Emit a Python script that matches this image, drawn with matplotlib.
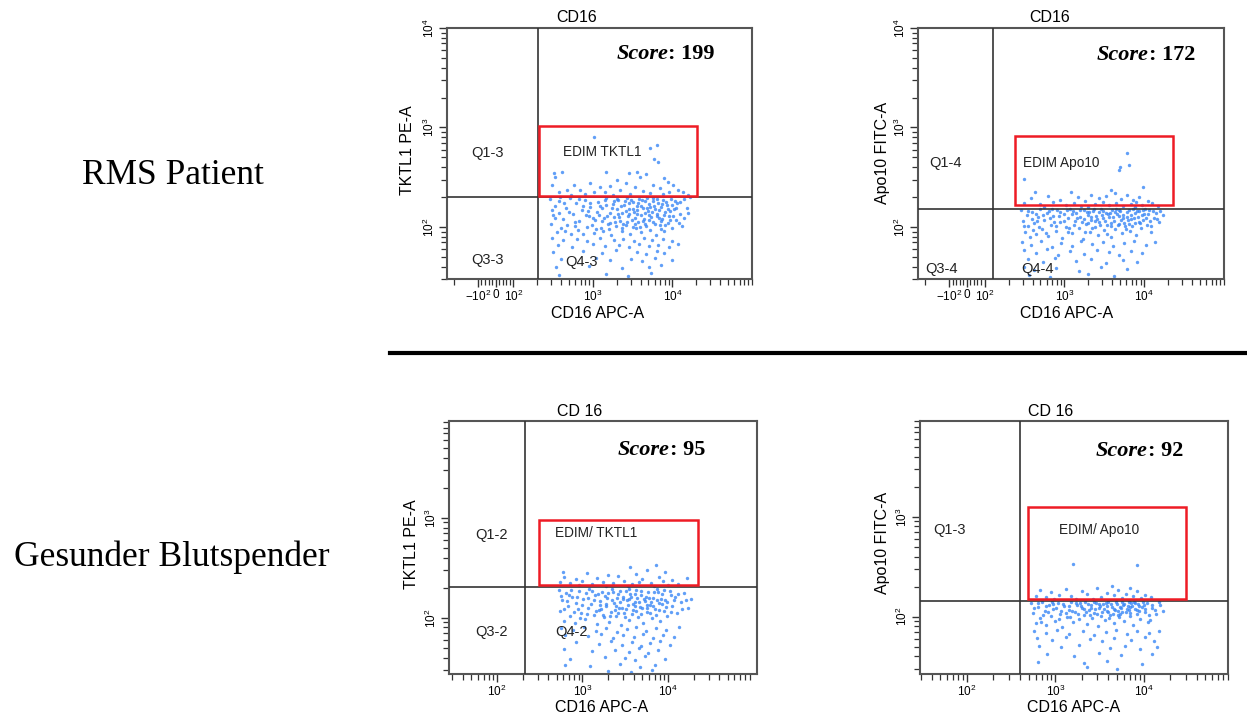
import numpy as np
import matplotlib.pyplot as plt
from matplotlib.patches import Rectangle
from matplotlib.lines import Line2D
from matplotlib.ticker import FixedLocator, NullFormatter, LogLocator

plt.rcParams['font.family'] = ['Liberation Sans', 'DejaVu Sans']
plt.rcParams['mathtext.fontset'] = 'custom'
plt.rcParams['mathtext.rm'] = 'Liberation Sans'
plt.rcParams['mathtext.it'] = 'Liberation Sans:italic'
plt.rcParams['mathtext.bf'] = 'Liberation Sans:bold'

# ---- data -------------------------------------------------------------
row_labels = ['RMS Patient', 'Gesunder Blutspender']
titles = ['CD16', 'CD16', 'CD 16', 'CD 16']
ylabels = ['TKTL1 PE-A', 'Apo10 FITC-A', 'TKTL1 PE-A', 'Apo10 FITC-A']
xlabels = ['CD16 APC-A'] * 4
gate_names = ['EDIM TKTL1', 'EDIM Apo10', 'EDIM/ TKTL1', 'EDIM/ Apo10']
quad_names = [['Q1-3', 'Q3-3', 'Q4-3'], ['Q1-4', 'Q3-4', 'Q4-4'],
              ['Q1-2', 'Q3-2', 'Q4-2'], ['Q1-3']]
scores = [199, 172, 95, 92]

# quadrant split (x, y) and gate (x0, x1, y0, y1)
quad_x = [205, 126, 213, 395]
quad_y = [200, 151, 203, 145]
gates = [(211, 20500, 204, 1030), (244, 23000, 166, 813),
         (311, 22500, 212, 950), (497, 30400, 151, 1260)]

# events, as (log10 CD16, log10 marker)
p1_pts = [
    (3.01,2.90),(3.80,2.82),(3.72,2.79),(3.77,2.68),(3.82,2.65),(3.17,2.55),(3.46,2.54),(3.55,2.55),
    (2.51,2.54),(2.61,2.55),(2.53,2.50),(3.59,2.50),(3.67,2.53),(3.90,2.49),(3.94,2.45),(3.30,2.47),
    (2.97,2.44),(2.76,2.42),(2.49,2.42),(3.42,2.44),(3.76,2.42),(4.01,2.42),(3.09,2.40),(3.22,2.41),
    (3.53,2.40),(3.84,2.39),(4.07,2.37),(2.67,2.37),(2.84,2.37),(2.57,2.35),(3.34,2.37),(3.63,2.36),
    (3.96,2.35),(4.13,2.35),(3.01,2.35),(3.15,2.35),(3.72,2.34),(3.47,2.33),(2.90,2.33),(3.88,2.33),
    (4.20,2.32),(2.72,2.32),(3.25,2.32),
    (2.46,2.28),(2.53,2.21),(2.50,2.12),(2.47,2.03),(2.55,1.95),(2.49,2.17),(2.58,2.26),(2.62,2.08),
    (2.60,1.99),(2.66,2.19),(2.71,2.29),(2.68,2.02),(2.75,2.13),(2.73,1.93),(2.79,2.24),(2.83,2.06),
    (2.86,2.17),(2.81,1.97),(2.90,2.27),(2.92,2.00),(2.95,2.11),(2.97,2.20),(3.01,1.94),(3.03,2.07),
    (3.06,2.25),(3.05,2.15),(3.10,1.99),(3.12,2.19),(3.14,2.09),(3.17,2.29),(3.19,2.03),(3.21,2.14),
    (3.23,1.92),(3.25,2.23),(3.27,2.10),(3.29,2.01),(3.30,2.18),(3.32,2.27),(3.34,2.06),(3.36,1.96),
    (3.37,2.14),(3.39,2.22),(3.41,2.02),(3.43,2.29),(3.44,2.11),(3.46,2.18),(3.47,1.93),(3.49,2.07),
    (3.51,2.25),(3.52,2.15),(3.54,1.99),(3.55,2.21),(3.57,2.05),(3.58,2.28),(3.60,2.12),(3.61,1.95),
    (3.63,2.19),(3.64,2.08),(3.66,2.26),(3.67,2.01),(3.69,2.16),(3.70,2.23),(3.72,1.97),(3.73,2.10),
    (3.75,2.29),(3.76,2.05),(3.78,2.18),(3.79,1.92),(3.81,2.13),(3.82,2.24),(3.84,2.02),(3.85,2.20),
    (3.87,2.08),(3.88,2.27),(3.90,1.96),(3.91,2.15),(3.93,2.22),(3.95,2.04),(3.96,2.11),(3.98,2.28),
    (4.00,1.99),(4.02,2.18),(4.04,2.07),(4.06,2.24),(4.09,2.13),(4.12,2.01),(4.15,2.28),(4.18,2.19),
    (4.22,2.30),(2.57,2.14),(2.64,2.24),(2.77,2.05),(2.88,2.21),(2.99,2.02),(3.08,2.12),(3.16,2.22),
    (3.22,2.04),(3.31,2.13),(3.38,2.03),(3.45,2.24),(3.50,2.00),(3.56,2.17),(3.62,2.27),(3.65,2.03),
    (3.71,2.12),(3.77,2.21),(3.83,2.09),(3.86,1.98),(3.92,2.25),(3.97,2.16),(4.03,2.26),(4.08,2.04),
    (3.53,2.09),(3.68,2.19),(3.80,2.28),(3.42,2.16),(3.26,2.26),(3.13,1.96),(2.94,2.16),
    (2.52,2.09),(2.59,2.30),(2.65,1.96),(2.70,2.15),(2.78,2.01),(2.82,2.28),(2.87,1.93),(2.91,2.12),
    (2.96,2.24),(3.00,2.09),(3.04,1.98),(3.09,2.21),(3.11,2.06),(3.15,2.27),(3.18,2.11),(3.20,1.98),
    (3.24,2.19),(3.28,2.05),(3.30,2.28),(3.33,2.10),(3.35,2.21),(3.37,1.99),(3.40,2.26),(3.43,2.05),
    (3.46,2.13),(3.48,2.27),(3.50,2.18),(3.53,2.03),(3.55,2.13),(3.57,2.24),(3.59,2.00),(3.61,2.21),
    (3.63,2.06),(3.66,2.14),(3.68,2.29),(3.70,2.07),(3.72,2.20),(3.74,2.15),(3.76,2.26),(3.78,2.03),
    (3.80,2.11),(3.83,2.17),(3.85,2.06),(3.87,2.23),(3.89,2.12),(3.91,2.02),(3.94,2.18),(3.97,2.07),
    (3.99,2.22),(4.01,2.11),(4.05,2.19),(4.10,2.25),(4.14,2.09),(4.19,2.14),
    (2.49,1.89),(2.63,1.87),(2.80,1.88),(2.93,1.86),(3.09,1.89),(3.26,1.87),(3.38,1.88),(3.52,1.86),
    (3.64,1.89),(3.74,1.87),(3.88,1.88),(4.00,1.86),(2.56,1.82),(2.74,1.80),(3.00,1.83),(3.15,1.81),
    (3.33,1.82),(3.46,1.80),(3.58,1.83),(3.71,1.81),(3.82,1.82),(3.96,1.80),(4.07,1.83),(2.50,1.75),
    (2.88,1.76),(3.12,1.74),(3.29,1.77),(3.55,1.75),(3.67,1.73),(3.80,1.76),(3.90,1.74),(2.60,1.68),
    (3.04,1.69),(3.21,1.67),(3.48,1.68),(3.62,1.66),(3.78,1.69),(3.99,1.67),(2.54,1.60),(2.95,1.61),
    (3.36,1.59),(3.70,1.60),(3.86,1.62),(2.58,1.52),(3.17,1.53),(3.44,1.51),(3.73,1.54),
]

p2_pts = [
    (3.79,2.74),(3.81,2.62),(3.70,2.60),(3.68,2.57),(2.50,2.48),(3.99,2.40),(2.63,2.35),(3.08,2.35),
    (3.33,2.32),(3.58,2.37),(3.63,2.34),(2.58,2.29),(2.79,2.31),(2.95,2.27),(3.17,2.30),(3.26,2.26),
    (3.44,2.29),(3.52,2.31),(3.71,2.28),(3.78,2.32),(3.86,2.27),(3.93,2.30),(4.05,2.26),(2.49,2.24),
    (2.69,2.23),(2.86,2.25),(3.02,2.22),(3.12,2.24),(3.21,2.21),(3.38,2.23),(3.48,2.25),(3.56,2.22),
    (3.65,2.24),(3.74,2.21),(3.83,2.23),(3.90,2.25),(3.97,2.22),(4.10,2.24),(4.17,2.21),(3.30,2.20),
    (2.74,2.20),(3.88,2.20),
    (2.46,2.17),(2.48,2.06),(2.51,1.95),(2.53,2.12),(2.55,2.01),(2.57,1.90),(2.60,2.15),(2.62,2.04),
    (2.64,1.93),(2.67,2.10),(2.70,2.18),(2.72,1.98),(2.75,2.07),(2.78,2.14),(2.80,1.91),(2.83,2.02),
    (2.86,2.11),(2.89,1.96),(2.91,2.17),(2.94,2.05),(2.97,1.89),(2.99,2.13),(3.02,2.00),(3.05,2.09),
    (3.07,2.18),(3.10,1.94),(3.13,2.06),(3.15,2.14),(3.18,1.99),(3.20,2.10),(3.23,1.88),(3.25,2.17),
    (3.27,2.03),(3.29,2.12),(3.32,1.95),(3.34,2.07),(3.36,2.16),(3.38,2.00),(3.40,2.11),(3.42,1.92),
    (3.44,2.05),(3.46,2.18),(3.48,2.09),(3.50,1.97),(3.52,2.14),(3.54,2.02),(3.56,2.10),(3.58,1.90),
    (3.60,2.17),(3.62,2.06),(3.64,1.98),(3.66,2.13),(3.68,2.03),(3.70,2.16),(3.72,1.94),(3.74,2.09),
    (3.76,2.01),(3.78,2.15),(3.80,2.07),(3.82,1.96),(3.84,2.12),(3.86,2.18),(3.88,2.04),(3.90,1.92),
    (3.92,2.10),(3.94,2.16),(3.96,1.99),(3.98,2.07),(4.00,2.13),(4.03,2.02),(4.06,2.17),(4.09,1.95),
    (4.12,2.09),(4.15,2.14),(4.19,2.05),(4.23,2.12),(2.59,2.08),(2.68,2.00),(2.81,2.16),(2.93,2.11),
    (3.04,1.95),(3.11,2.16),(3.22,2.05),(3.31,2.15),(3.39,2.06),(3.47,2.12),(3.53,1.93),(3.59,2.04),
    (3.65,2.18),(3.71,2.07),(3.77,1.98),(3.83,2.08),(3.89,2.14),(3.95,2.04),(4.01,2.18),(4.07,2.06),
    (3.57,2.14),(3.69,2.11),(3.81,2.03),(3.43,2.15),(2.87,2.05),(2.65,2.13),
    (2.49,2.01),(2.54,2.16),(2.61,1.97),(2.66,2.06),(2.73,2.12),(2.77,1.94),(2.82,2.09),(2.85,2.18),
    (2.90,2.01),(2.95,2.15),(3.00,2.06),(3.03,2.17),(3.06,1.99),(3.09,2.13),(3.12,2.02),(3.16,2.09),
    (3.19,2.17),(3.24,2.08),(3.26,1.95),(3.28,2.15),(3.30,2.04),(3.33,2.10),(3.35,1.99),(3.37,2.18),
    (3.41,2.08),(3.45,2.02),(3.49,2.16),(3.51,2.06),(3.55,2.13),(3.58,2.01),(3.61,2.10),(3.63,2.15),
    (3.67,2.02),(3.69,2.17),(3.73,2.12),(3.75,2.04),(3.79,2.10),(3.81,2.17),(3.85,2.01),(3.87,2.09),
    (3.91,2.16),(3.93,2.05),(3.97,2.12),(3.99,2.17),(4.02,2.09),(4.05,2.13),(4.08,2.01),(4.11,2.16),
    (4.16,2.08),(4.20,2.16),
    (2.47,1.85),(2.58,1.82),(2.71,1.86),(2.84,1.80),(2.96,1.84),(3.09,1.81),(3.21,1.86),(3.35,1.83),
    (3.49,1.85),(3.61,1.81),(3.75,1.84),(3.87,1.86),(4.02,1.82),(4.14,1.85),(2.50,1.77),(2.65,1.74),
    (2.78,1.78),(2.92,1.72),(3.07,1.76),(3.25,1.73),(3.41,1.77),(3.56,1.75),(3.69,1.72),(3.83,1.76),
    (3.97,1.74),(2.54,1.68),(2.73,1.65),(2.88,1.69),(3.14,1.66),(3.33,1.68),(3.52,1.64),(3.73,1.67),
    (3.91,1.65),(2.49,1.60),(2.62,1.57),(2.90,1.59),(3.18,1.56),(3.46,1.60),(3.78,1.58),(2.56,1.52),
    (2.82,1.50),(3.29,1.53),(3.62,1.51),
]

p3_pts = [
    (3.56,2.51),(3.86,2.53),(3.75,2.48),(3.97,2.46),(3.30,2.43),(2.77,2.46),(2.79,2.41),(4.22,2.40),
    (3.05,2.45),(3.63,2.44),(2.92,2.39),(3.17,2.40),(3.42,2.42),(3.70,2.39),(3.89,2.41),(4.05,2.38),
    (2.74,2.36),(2.85,2.35),(3.00,2.37),(3.11,2.34),(3.24,2.36),(3.36,2.35),(3.49,2.37),(3.58,2.34),
    (3.66,2.36),(3.80,2.35),(3.94,2.37),(4.12,2.34),(3.53,2.32),(3.28,2.32),(2.96,2.33),(3.84,2.32),
    (4.00,2.33),
    (2.73,2.28),(2.76,2.18),(2.74,2.07),(2.78,1.97),(2.81,2.25),(2.83,2.12),(2.86,2.02),(2.88,2.21),
    (2.91,1.95),(2.93,2.15),(2.96,2.27),(2.98,2.05),(3.01,2.19),(3.03,1.99),(3.06,2.10),(3.08,2.29),
    (3.10,2.14),(3.13,2.03),(3.15,2.23),(3.17,1.94),(3.19,2.08),(3.21,2.17),(3.23,2.26),(3.25,2.01),
    (3.27,2.12),(3.29,2.20),(3.31,1.96),(3.33,2.06),(3.35,2.29),(3.37,2.15),(3.39,2.02),(3.41,2.24),
    (3.43,2.10),(3.45,1.93),(3.47,2.19),(3.49,2.05),(3.51,2.27),(3.53,2.13),(3.55,1.98),(3.57,2.21),
    (3.59,2.08),(3.61,2.16),(3.63,2.28),(3.65,2.01),(3.67,2.11),(3.69,2.23),(3.71,1.95),(3.73,2.17),
    (3.75,2.06),(3.77,2.26),(3.79,2.13),(3.81,2.00),(3.83,2.20),(3.85,2.09),(3.87,2.29),(3.89,2.15),
    (3.91,1.97),(3.93,2.24),(3.95,2.07),(3.97,2.18),(3.99,2.02),(4.02,2.27),(4.05,2.12),(4.08,2.21),
    (4.11,2.05),(4.15,2.16),(4.19,2.25),(4.23,2.10),(4.27,2.19),(2.84,2.23),(2.95,2.09),(3.04,2.25),
    (3.14,2.18),(3.22,2.09),(3.30,2.25),(3.38,2.08),(3.44,2.16),(3.50,2.01),(3.56,2.24),(3.62,2.12),
    (3.68,2.04),(3.74,2.21),(3.80,2.16),(3.86,2.03),(3.92,2.19),(3.98,2.11),(4.04,2.23),(3.52,2.18),
    (3.64,2.20),(3.76,2.10),(3.88,2.26),(3.40,2.20),(3.58,2.04),
    (2.75,2.22),(2.79,2.09),(2.82,2.17),(2.87,2.28),(2.90,2.06),(2.94,2.21),(2.97,2.00),(3.00,2.13),
    (3.05,2.04),(3.07,2.20),(3.11,2.27),(3.16,2.07),(3.18,2.24),(3.20,2.13),(3.24,2.03),(3.26,2.22),
    (3.28,2.14),(3.32,2.02),(3.34,2.18),(3.36,2.26),(3.39,2.12),(3.42,2.05),(3.44,2.27),(3.46,2.10),
    (3.48,2.21),(3.51,2.09),(3.54,2.19),(3.55,2.29),(3.59,2.14),(3.61,2.24),(3.63,2.07),(3.66,2.16),
    (3.69,2.27),(3.70,2.10),(3.72,2.19),(3.75,2.13),(3.78,2.20),(3.79,2.05),(3.82,2.12),(3.84,2.26),
    (3.87,2.18),(3.90,2.08),(3.93,2.14),(3.95,2.28),(3.99,2.16),(4.03,2.06),(4.07,2.18),(4.12,2.24),
    (4.17,2.09),(4.21,2.18),
    (2.75,1.90),(2.89,1.88),(3.02,1.91),(3.16,1.87),(3.28,1.90),(3.40,1.86),(3.52,1.89),(3.63,1.91),
    (3.74,1.87),(3.86,1.90),(3.98,1.88),(4.13,1.91),(2.80,1.83),(3.07,1.82),(3.22,1.84),(3.36,1.80),
    (3.48,1.83),(3.60,1.81),(3.71,1.84),(3.82,1.80),(3.94,1.83),(4.07,1.81),(2.93,1.76),(3.19,1.74),
    (3.33,1.77),(3.46,1.73),(3.58,1.76),(3.69,1.72),(3.79,1.75),(3.91,1.77),(4.02,1.73),(2.78,1.69),
    (3.11,1.67),(3.38,1.68),(3.55,1.66),(3.66,1.70),(3.77,1.65),(3.88,1.68),(3.26,1.61),(3.50,1.60),
    (3.61,1.58),(3.73,1.62),(3.97,1.59),(2.86,1.59),(2.80,1.53),(3.09,1.52),(3.44,1.54),(3.67,1.51),
    (3.85,1.53),(3.30,1.47),(3.57,1.46),(3.81,1.48),
]

p4_pts = [
    (3.20,2.53),(3.93,2.52),(3.64,2.31),(3.85,2.29),(2.83,2.27),(2.95,2.25),(3.12,2.28),(3.30,2.26),
    (3.47,2.29),(3.58,2.24),(3.71,2.27),(3.80,2.23),(3.93,2.26),(4.02,2.22),(2.78,2.21),(2.90,2.20),
    (3.04,2.22),(3.18,2.21),(3.36,2.23),(3.52,2.20),(3.66,2.22),(3.76,2.19),(3.88,2.21),(3.97,2.19),
    (4.08,2.20),(3.43,2.18),(3.24,2.18),(2.99,2.18),
    (2.73,2.14),(2.75,2.04),(2.78,1.94),(2.80,2.10),(2.83,1.99),(2.85,2.15),(2.88,2.06),(2.90,1.92),
    (2.93,2.12),(2.95,2.01),(2.98,2.08),(3.00,1.96),(3.03,2.14),(3.05,2.03),(3.08,1.90),(3.10,2.11),
    (3.13,2.00),(3.15,2.07),(3.18,2.15),(3.20,1.95),(3.22,2.05),(3.25,2.12),(3.27,1.98),(3.30,2.09),
    (3.32,2.02),(3.34,2.15),(3.36,1.93),(3.38,2.07),(3.40,2.12),(3.42,1.99),(3.44,2.04),(3.46,2.14),
    (3.48,1.91),(3.50,2.09),(3.52,2.01),(3.54,2.13),(3.56,1.97),(3.58,2.06),(3.60,2.15),(3.62,2.02),
    (3.64,2.10),(3.66,1.94),(3.68,2.07),(3.70,2.13),(3.72,2.00),(3.74,2.09),(3.76,2.15),(3.78,1.96),
    (3.80,2.05),(3.82,2.11),(3.84,2.01),(3.86,2.14),(3.88,1.92),(3.90,2.08),(3.92,2.03),(3.94,2.13),
    (3.96,1.98),(3.98,2.10),(4.01,2.05),(4.04,2.14),(4.07,1.97),(4.10,2.09),(4.14,2.03),(4.18,2.12),
    (4.22,2.06),(2.86,2.02),(2.97,2.13),(3.07,2.06),(3.17,2.00),(3.28,2.14),(3.35,2.05),(3.45,2.08),
    (3.53,2.05),(3.59,2.11),(3.65,2.03),(3.71,2.06),(3.77,2.12),(3.83,2.07),(3.89,2.15),(3.95,2.06),
    (4.00,2.12),(3.61,1.99),(3.73,2.03),(3.85,2.10),(3.49,2.13),(4.06,2.02),
    (2.76,2.09),(2.81,2.14),(2.84,1.95),(2.89,2.11),(2.92,2.05),(2.96,2.15),(3.01,2.09),(3.04,1.98),
    (3.09,2.13),(3.12,2.04),(3.16,2.11),(3.19,2.06),(3.23,2.14),(3.26,2.03),(3.29,2.11),(3.33,2.08),
    (3.37,2.13),(3.39,2.02),(3.41,2.09),(3.44,2.15),(3.47,2.03),(3.51,2.11),(3.55,2.08),(3.57,2.14),
    (3.60,2.05),(3.63,2.13),(3.66,2.08),(3.69,2.15),(3.71,2.02),(3.73,2.10),(3.75,2.05),(3.78,2.13),
    (3.81,2.08),(3.83,2.15),(3.85,2.04),(3.87,2.11),(3.90,2.14),(3.92,2.07),(3.95,2.11),(3.99,2.15),
    (4.02,2.08),(4.05,1.95),(4.09,2.12),(4.13,2.07),(4.17,2.15),
    (2.76,1.86),(2.89,1.84),(3.02,1.87),(3.16,1.83),(3.31,1.86),(3.44,1.82),(3.57,1.85),(3.69,1.87),
    (3.81,1.83),(3.93,1.86),(4.06,1.84),(4.17,1.86),(2.79,1.79),(2.96,1.77),(3.12,1.80),(3.39,1.78),
    (3.53,1.76),(3.67,1.79),(3.86,1.77),(4.01,1.80),(4.12,1.76),(2.82,1.71),(3.06,1.70),(3.27,1.72),
    (3.62,1.69),(3.79,1.71),(3.96,1.68),(4.15,1.70),(2.91,1.63),(3.21,1.61),(3.49,1.64),(3.74,1.62),
    (4.09,1.63),(2.80,1.55),(3.33,1.54),(3.58,1.56),(3.98,1.53),(3.70,1.48),(3.36,1.50),
]
all_pts = [p1_pts, p2_pts, p3_pts, p4_pts]

# ---- layout (pixel positions in the 1247x716 picture) -----------------
W, H = 1247, 716


def fx(px):
    return px / W


def fy(py):
    return 1 - py / H


boxes = [(447, 28, 752, 279), (918, 28, 1224, 279),
         (449, 421, 757, 674), (920, 421, 1228, 674)]
xlims = [(-245, 1e5), (-245, 1e5), (27.5, 1.1e5), (29.5, 9e4)]
ylims = [(30, 1e4), (30, 1e4), (27.4, 9300), (26.7, 9100)]
sym = [True, True, False, False]
title_pos = [(577, 18), (1050, 18), (580, 412), (1051, 412)]
ylab_pos = [(408, 150), (882, 153), (412, 544), (883, 543)]
xlab_pos = [(598, 313), (1067, 313), (602, 707), (1074, 707)]
gate_lab_pos = [(602, 152), (1061, 163), (596, 533), (1099, 530)]
quad_lab_pos = [[(487, 153), (487, 260), (582, 262)],
                [(946, 163), (941, 269), (1037, 269)],
                [(491, 535), (492, 632), (572, 632)],
                [(950, 530)]]
score_pos = [(715, 59), (1195, 60), (705, 455), (1183, 456)]

dot_color = '#3a87f6'
line_color = '#333333'
serif = 'Liberation Serif'

fig = plt.figure(figsize=(W / 100, H / 100), dpi=100)

for i in range(4):
    l, t, r, b = boxes[i]
    ax = fig.add_axes([fx(l), fy(b), (r - l) / W, (b - t) / H])
    pts = np.array(all_pts[i])
    ax.scatter(10 ** pts[:, 0], 10 ** pts[:, 1], s=6, marker='o',
               color=dot_color, linewidths=0, alpha=0.8, zorder=2)

    ax.axvline(quad_x[i], color=line_color, lw=1.2, zorder=3)
    ax.axhline(quad_y[i], color=line_color, lw=1.2, zorder=3)
    x0, x1, y0, y1 = gates[i]
    ax.add_patch(Rectangle((x0, y0), x1 - x0, y1 - y0, fill=False,
                           edgecolor='#ee1c25', lw=1.8, zorder=4))

    if sym[i]:
        ax.set_xscale('symlog', linthresh=100, linscale=0.2)
        ax.set_xticks([-100, 0, 100, 1000, 10000])
        ax.set_xticklabels(['$-10^2$', '0', '$10^2$', '$10^3$', '$10^4$'])
        minors = ([-200] + list(range(-80, 0, 20)) + list(range(20, 100, 20))
                  + list(range(200, 1000, 100)) + list(range(2000, 10000, 1000))
                  + list(range(20000, 100001, 10000)))
        ax.xaxis.set_minor_locator(FixedLocator(minors))
    else:
        ax.set_xscale('log')
        ax.set_xticks([100, 1000, 10000])
        ax.set_xticklabels(['$10^2$', '$10^3$', '$10^4$'])
        ax.xaxis.set_minor_locator(LogLocator(base=10, subs=np.arange(2, 10)))
    ax.xaxis.set_minor_formatter(NullFormatter())

    ax.set_yscale('log')
    if ylims[i][1] >= 1e4:
        ax.set_yticks([100, 1000, 10000])
        ax.set_yticklabels(['$10^2$', '$10^3$', '$10^4$'], rotation=90, va='center')
    else:
        ax.set_yticks([100, 1000])
        ax.set_yticklabels(['$10^2$', '$10^3$'], rotation=90, va='center')
    ax.yaxis.set_minor_locator(LogLocator(base=10, subs=np.arange(2, 10)))
    ax.yaxis.set_minor_formatter(NullFormatter())

    ax.set_xlim(*xlims[i])
    ax.set_ylim(*ylims[i])

    ax.tick_params(which='major', direction='out', length=6, width=1,
                   color=line_color, labelsize=8.5, pad=1)
    ax.tick_params(which='minor', direction='out', length=4, width=0.9,
                   color=line_color)
    for sp in ax.spines.values():
        sp.set_color('#555555')
        sp.set_linewidth(1.5)

    fig.text(fx(title_pos[i][0]), fy(title_pos[i][1]), titles[i],
             ha='center', va='center', fontsize=11.5)
    fig.text(fx(ylab_pos[i][0]), fy(ylab_pos[i][1]), ylabels[i],
             ha='center', va='center', rotation=90, fontsize=11.5)
    fig.text(fx(xlab_pos[i][0]), fy(xlab_pos[i][1]), xlabels[i],
             ha='center', va='center', fontsize=11.5)
    fig.text(fx(gate_lab_pos[i][0]), fy(gate_lab_pos[i][1]), gate_names[i],
             ha='center', va='center', fontsize=9.8, color='#222222')
    for name, (qx, qy) in zip(quad_names[i], quad_lab_pos[i]):
        fig.text(fx(qx), fy(qy), name, ha='center', va='center',
                 fontsize=10.5, color='#222222')

    sx, sy = score_pos[i]
    st = fig.text(fx(sx), fy(sy), f': {scores[i]}', ha='right', va='baseline',
                  family=serif, weight='bold', fontsize=16)
    ax.annotate('Score', xy=(0, 0), xycoords=st, ha='right', va='bottom',
                family=serif, weight='bold', style='italic', fontsize=16,
                annotation_clip=False)

fig.text(fx(173), fy(184), row_labels[0], ha='center', va='baseline',
         family=serif, fontsize=25.5)
fig.text(fx(172), fy(566), row_labels[1], ha='center', va='baseline',
         family=serif, fontsize=25.5)
fig.add_artist(Line2D([fx(390), 1.0], [fy(353), fy(353)], color='black',
                      lw=3, transform=fig.transFigure))

fig.savefig('out.png', dpi=100)
